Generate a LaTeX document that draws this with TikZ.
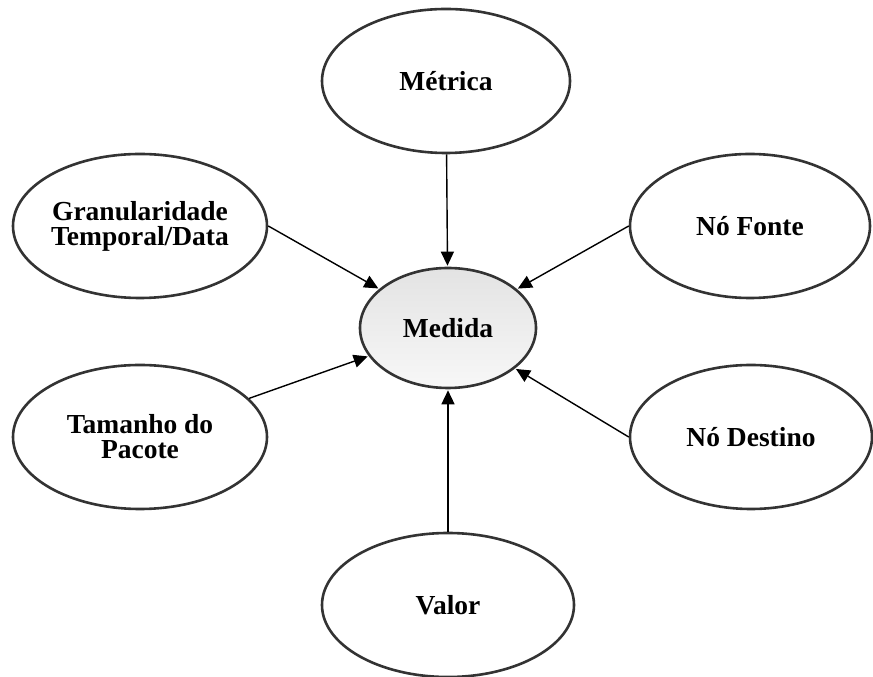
\documentclass[tikz,border=0pt]{standalone}
\usepackage{fontspec}
\setmainfont{Liberation Serif}
\usetikzlibrary{shapes.geometric,arrows.meta}
\begin{document}
\begin{tikzpicture}[x=1pt,y=1pt]
          \useasboundingbox (0,0) rectangle (873,677);
          \tikzstyle{every node}=[draw=black!80,shape=ellipse,line width=2.6pt,
            minimum width=250pt,minimum height=144pt,inner sep=0pt,align=center,
            font=\fontsize{27.5}{25}\selectfont\bfseries];
          \tikzstyle{seta}=[line width=1.4pt,-{Triangle[length=14pt,width=13pt]},shorten >=1pt];
          %\node (name) at (x,y) {text};
          \node (metrica) at (446,596) [minimum width=248pt] {Métrica};
          \node (gran) at (140,451) [minimum width=254pt] {Granularidade\\Temporal/Data};
          \node (fonte) at (750,451) [minimum width=240pt] {Nó Fonte};
          \node (medida) at (448,349) [minimum width=176pt,minimum height=120pt,
            top color=gray!22,bottom color=gray!6] {Medida};
          \node (tam) at (140,240) [minimum width=254pt] {Tamanho do\\Pacote};
          \node (dest) at (751,240) [minimum width=242pt] {Nó Destino};
          \node (valor) at (448,72) [minimum width=252pt] {Valor};
          %\draw [seta] ...
          \draw[seta] (metrica)--(medida);
          \draw[seta] (gran.east)--(medida);
          \draw[seta] (fonte.west)--(medida);
          \draw[seta] (tam)--(medida);
          \draw[seta] (dest.west)--(medida);
          \draw[seta] (valor)--(medida);
      \end{tikzpicture}
\end{document}
